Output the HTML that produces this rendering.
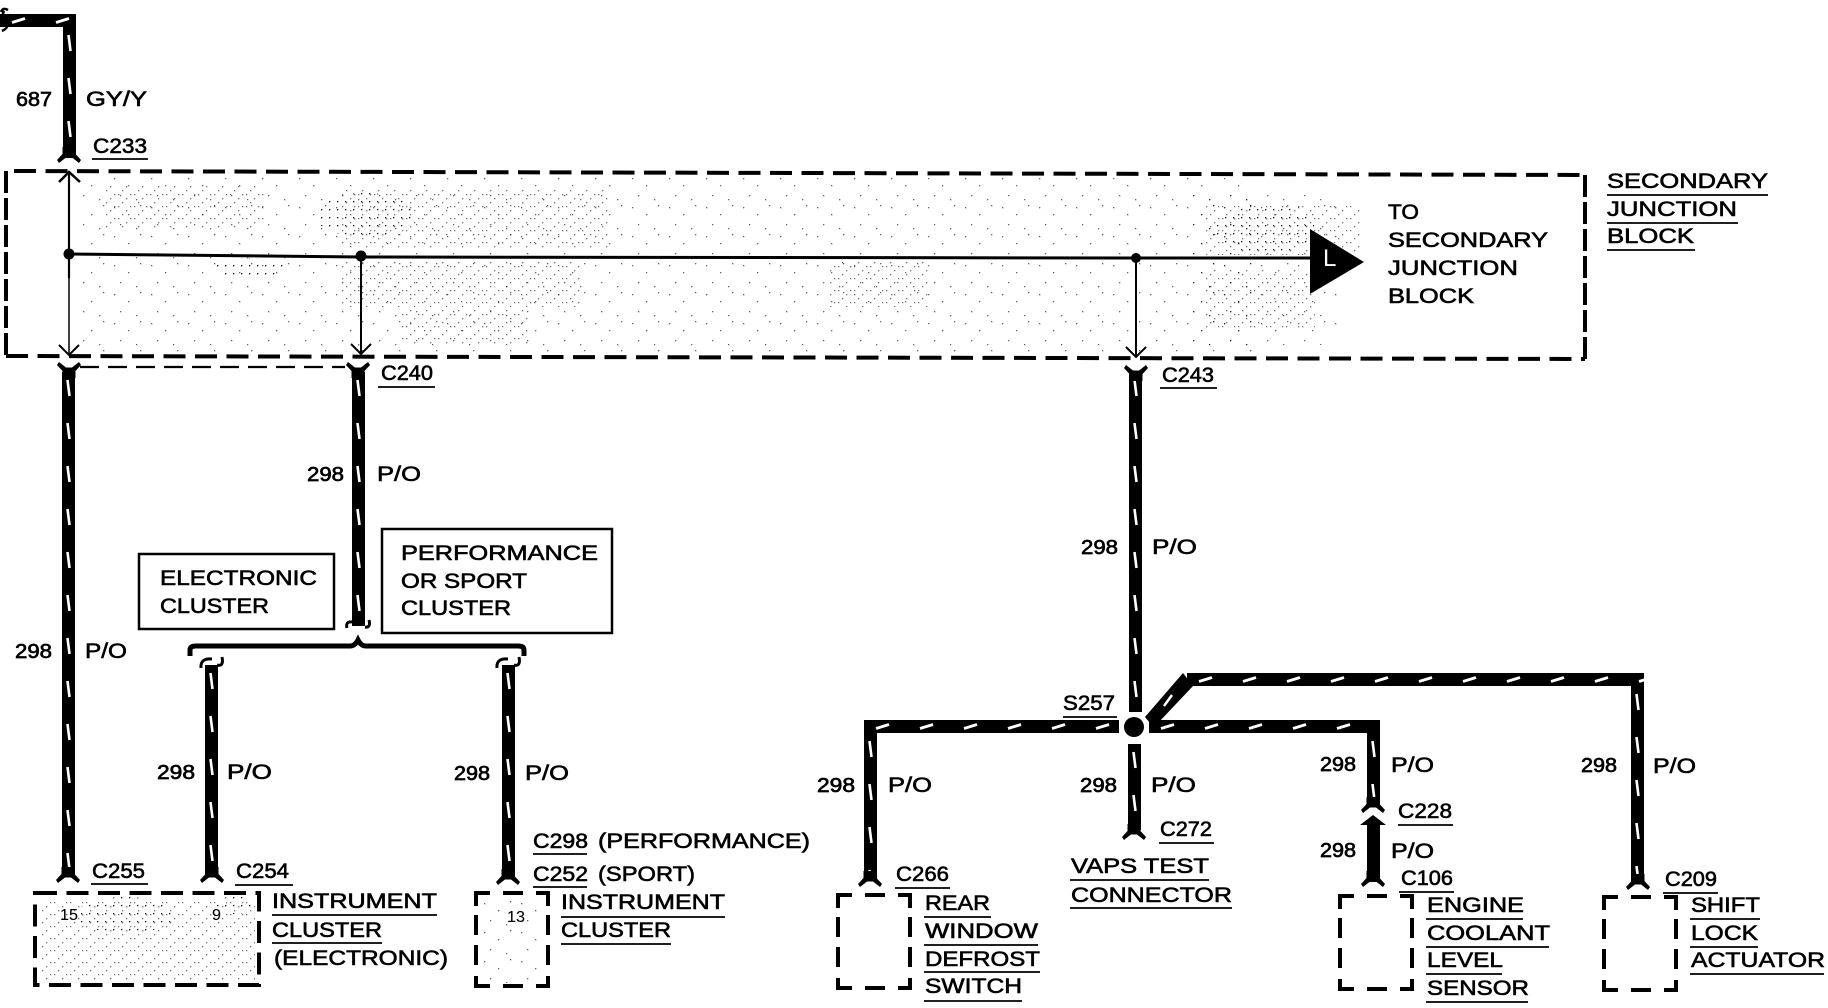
<!DOCTYPE html>
<html><head><meta charset="utf-8"><style>
html,body{margin:0;padding:0;background:#fff}
svg{display:block}
text{font-family:"Liberation Sans",sans-serif;font-size:21px;fill:#000;stroke:#000;stroke-width:.6px}
.n{font-size:20px;stroke-width:.7px}
.s{font-size:16px;stroke-width:.1px}
</style></head><body>
<svg width="1828" height="1008" viewBox="0 0 1828 1008" xmlns="http://www.w3.org/2000/svg">
<defs>
<pattern id="v" width="13" height="43" patternUnits="userSpaceOnUse"><rect width="13" height="43" fill="#000"/><path d="M5.500 8L7.500 24" stroke="#fff" stroke-width="2.600"/></pattern>
<pattern id="h" width="44" height="13" patternUnits="userSpaceOnUse"><rect width="44" height="13" fill="#000"/><path d="M12 8.500L25 4.500" stroke="#fff" stroke-width="3"/></pattern>
<pattern id="d1" width="8" height="8" patternUnits="userSpaceOnUse"><rect x="1" y="1" width="1.300" height="1.300" fill="#000"/></pattern>
<pattern id="d3" width="37" height="29" patternUnits="userSpaceOnUse"><g fill="#000"><rect x="3" y="4" width="1.300" height="1.300"/><rect x="17" y="11" width="1.300" height="1.300"/><rect x="29" y="2" width="1.300" height="1.300"/><rect x="9" y="21" width="1.300" height="1.300"/><rect x="25" y="25" width="1.300" height="1.300"/></g></pattern>
<pattern id="d4" width="16" height="12" patternUnits="userSpaceOnUse"><g fill="#000"><rect x="2" y="2" width="1.300" height="1.300"/><rect x="6" y="2" width="1.300" height="1.300"/><rect x="14" y="6" width="1.300" height="1.300"/><rect x="10" y="10" width="1.300" height="1.300"/></g></pattern>
<polygon id="fd" points="-6.500,-16 -6.500,-9 -12,-3 -10,0 -3,-5.500 3,-5.500 10,0 12,-3 6.500,-9 6.500,-16"/>
<path id="sb" fill="none" stroke="#000" stroke-width="4" d="M0 13V0H14M27 0H47M60 0H72V13M0 22V42M0 52V72M0 83V93H14M27 93H47M60 93H72V83M72 22V42M72 52V72"/>
<path id="ch" fill="none" stroke="#000" stroke-width="2" d="M-10 -10L0 0L10 -10"/>
</defs>

<!-- stipple -->
<g>
<rect x="80" y="178" width="1180" height="174" fill="url(#d3)" opacity=".6"/>
<rect x="1190" y="195" width="150" height="150" fill="url(#d3)" opacity=".6"/>
<g opacity=".55">
<rect x="105" y="185" width="160" height="45" fill="url(#d4)"/>
<rect x="340" y="190" width="270" height="60" fill="url(#d4)"/>
<rect x="340" y="262" width="240" height="45" fill="url(#d4)"/>
<rect x="400" y="310" width="130" height="35" fill="url(#d4)"/>
<rect x="830" y="262" width="100" height="45" fill="url(#d4)"/>
<rect x="1205" y="205" width="155" height="50" fill="url(#d4)"/>
<rect x="1205" y="270" width="110" height="60" fill="url(#d4)"/>
<rect x="40" y="900" width="215" height="80" fill="url(#d4)"/>
</g>
<ellipse cx="365" cy="215" rx="50" ry="22" fill="url(#d1)"/>
<ellipse cx="250" cy="268" rx="35" ry="10" fill="url(#d1)"/>
<ellipse cx="1265" cy="230" rx="50" ry="25" fill="url(#d1)"/>
<ellipse cx="125" cy="915" rx="50" ry="18" fill="url(#d1)"/>
<ellipse cx="235" cy="905" rx="18" ry="9" fill="url(#d1)"/>
<rect x="482" y="898" width="60" height="85" fill="url(#d3)" opacity=".6"/>
</g>

<!-- junction block dashed -->
<path fill="none" stroke="#000" stroke-width="4" stroke-dasharray="22 9.500" d="M14 171L1585 175"/>
<path fill="none" stroke="#000" stroke-width="4" stroke-dasharray="22 9.500" d="M6 356L1585 359"/>
<path fill="none" stroke="#000" stroke-width="4" stroke-dasharray="22 5" d="M6 171V356"/>
<path fill="none" stroke="#000" stroke-width="4" stroke-dasharray="22 5" d="M1585 175V359"/>
<path fill="none" stroke="#000" stroke-width="2.200" stroke-dasharray="19 9" d="M80 367H345"/>

<!-- internal lines -->
<path d="M69 172V278" stroke="#000" stroke-width="2.200" fill="none"/>
<path d="M69 278V355" stroke="#000" stroke-width="1.500" fill="none"/>
<path d="M69 254L361 257L1136 258L1312 258" stroke="#000" stroke-width="3" fill="none"/>
<path d="M361 257V354" stroke="#000" stroke-width="2" fill="none"/>
<path d="M1136 258V356" stroke="#000" stroke-width="2" fill="none"/>
<circle cx="69" cy="254" r="5.500"/><circle cx="361" cy="256" r="5.500"/><circle cx="1136" cy="258" r="5"/>
<path d="M59 182L69 172L80 182" fill="none" stroke="#000" stroke-width="2.500"/>
<use href="#ch" x="69" y="355"/><use href="#ch" x="361" y="354"/><use href="#ch" x="1136" y="357"/>
<polygon points="1310,229 1364,262 1310,294" fill="#000"/>
<text x="1323" y="266" style="font-size:24px;fill:#fff;stroke:none">L</text>

<!-- wires -->
<path d="M1 12Q3 7 8 10M4 11Q0 20 6 23Q10 27 2 31" fill="none" stroke="#000" stroke-width="2.500"/>
<g transform="translate(0,14)"><rect width="76" height="13" fill="url(#h)"/></g>
<g transform="translate(63,27)"><rect width="13" height="131" fill="url(#v)"/></g>
<g transform="translate(62,372)"><rect width="13" height="505" fill="url(#v)"/></g>
<g transform="translate(352,372)"><rect width="13" height="254" fill="url(#v)"/></g>
<g transform="translate(205,665)"><rect width="13" height="210" fill="url(#v)"/></g>
<g transform="translate(502,665)"><rect width="13" height="212" fill="url(#v)"/></g>
<g transform="translate(1129,372)"><rect width="13" height="340" fill="url(#v)"/></g>
<g transform="translate(1128,744)"><rect width="13" height="86" fill="url(#v)"/></g>
<g transform="translate(864,733)"><rect width="13" height="148" fill="url(#v)"/></g>
<g transform="translate(1367,733)"><rect width="13" height="72" fill="url(#v)"/></g>
<rect x="1367" y="820" width="13" height="62" fill="#000"/>
<g transform="translate(1631,686)"><rect width="13" height="198" fill="url(#v)"/></g>
<g transform="translate(864,720)"><rect width="255" height="13" fill="url(#h)"/></g>
<g transform="translate(1149,720)"><rect width="231" height="13" fill="url(#h)"/></g>
<g transform="translate(1187,673)"><rect width="457" height="13" fill="url(#h)"/></g>
<polygon points="1145,717 1183,673 1193,686 1158,723 1150,723" fill="#000"/>
<path d="M1164 706L1172 695" stroke="#fff" stroke-width="2.500"/>
<ellipse cx="1134" cy="727" rx="10" ry="10" fill="#000"/>
<polygon points="1373,815 1386,825 1360,825" fill="#000"/>

<!-- forks -->
<use href="#fd" transform="translate(69,163)"/>
<use href="#fd" transform="translate(69,362) scale(1,-1)"/>
<use href="#fd" transform="translate(358,362) scale(1,-1)"/>
<use href="#fd" transform="translate(1136,365) scale(1,-1)"/>
<use href="#fd" transform="translate(68,883)"/>
<use href="#fd" transform="translate(212,883)"/>
<use href="#fd" transform="translate(508,885)"/>
<use href="#fd" transform="translate(870,887)"/>
<use href="#fd" transform="translate(1134,840)"/>
<use href="#fd" transform="translate(1373,813)"/>
<use href="#fd" transform="translate(1373,887)"/>
<use href="#fd" transform="translate(1638,890)"/>

<!-- brace and curls -->
<path d="M190 656V650Q190 646 196 646H350Q355 646 358 640Q361 646 366 646H518Q524 646 524 650V656" fill="none" stroke="#000" stroke-width="5"/>
<path d="M347 628Q345 621 353 622M365 627Q371 628 369 620" fill="none" stroke="#000" stroke-width="3"/>
<path d="M201 668Q200 658 212 659M217 665Q224 667 222 657" fill="none" stroke="#000" stroke-width="3"/>
<path d="M497 668Q496 658 508 659M514 665Q521 667 519 657" fill="none" stroke="#000" stroke-width="3"/>

<!-- boxes -->
<rect x="139" y="554" width="195" height="75" fill="none" stroke="#000" stroke-width="2.500"/>
<rect x="382" y="529" width="230" height="104" fill="none" stroke="#000" stroke-width="2.500"/>
<rect x="35" y="893" width="224" height="92" fill="none" stroke="#000" stroke-width="4" stroke-dasharray="22 9.500"/>
<use href="#sb" x="476" y="893"/>
<use href="#sb" x="838" y="895"/>
<use href="#sb" x="1340" y="896"/>
<use href="#sb" x="1604" y="897"/>

<!-- underlines -->
<path fill="none" stroke="#000" stroke-width="1.800" d="M92 159H148M378 387H435M1160 388H1217M1607 195H1768M1607 223H1738M1607 250H1695M1063 717H1117M1159 843H1214M1070 880H1209M1070 908H1232M1398 825H1453M1399 892H1454M1663 893H1718M895 888H950M924 917H991M924 945H1038M924 972H1040M924 1001H1022M1426 919H1523M1426 947H1549M1426 974H1502M1426 1002H1528M1690 919H1760M1690 947H1758M1690 974H1824M91 884H148M235 885H293M533 854H587M533 887H587M272 915H437M272 943H382M561 917H725M561 944H671"/>

<!-- labels -->
<text x="16" y="106" textLength="36" lengthAdjust="spacingAndGlyphs" class="n">687</text>
<text x="86" y="106" textLength="61" lengthAdjust="spacingAndGlyphs">GY/Y</text>
<text x="93" y="153" textLength="54" lengthAdjust="spacingAndGlyphs">C233</text>
<text x="381" y="380" textLength="52" lengthAdjust="spacingAndGlyphs">C240</text>
<text x="1162" y="382" textLength="52" lengthAdjust="spacingAndGlyphs">C243</text>

<text x="15" y="658" textLength="37" lengthAdjust="spacingAndGlyphs" class="n">298</text>
<text x="85" y="658" textLength="42" lengthAdjust="spacingAndGlyphs">P/O</text>
<text x="307" y="481" textLength="37" lengthAdjust="spacingAndGlyphs" class="n">298</text>
<text x="377" y="481" textLength="44" lengthAdjust="spacingAndGlyphs">P/O</text>
<text x="157" y="779" textLength="38" lengthAdjust="spacingAndGlyphs" class="n">298</text>
<text x="227" y="779" textLength="45" lengthAdjust="spacingAndGlyphs">P/O</text>
<text x="454" y="780" textLength="36" lengthAdjust="spacingAndGlyphs" class="n">298</text>
<text x="525" y="780" textLength="44" lengthAdjust="spacingAndGlyphs">P/O</text>
<text x="1081" y="554" textLength="37" lengthAdjust="spacingAndGlyphs" class="n">298</text>
<text x="1152" y="554" textLength="45" lengthAdjust="spacingAndGlyphs">P/O</text>

<text x="160" y="585" textLength="157" lengthAdjust="spacingAndGlyphs">ELECTRONIC</text>
<text x="160" y="613" textLength="109" lengthAdjust="spacingAndGlyphs">CLUSTER</text>
<text x="401" y="560" textLength="197" lengthAdjust="spacingAndGlyphs">PERFORMANCE</text>
<text x="401" y="588" textLength="126" lengthAdjust="spacingAndGlyphs">OR SPORT</text>
<text x="401" y="615" textLength="110" lengthAdjust="spacingAndGlyphs">CLUSTER</text>

<text x="1388" y="219" textLength="31" lengthAdjust="spacingAndGlyphs">TO</text>
<text x="1388" y="247" textLength="160" lengthAdjust="spacingAndGlyphs">SECONDARY</text>
<text x="1388" y="275" textLength="130" lengthAdjust="spacingAndGlyphs">JUNCTION</text>
<text x="1388" y="303" textLength="86" lengthAdjust="spacingAndGlyphs">BLOCK</text>
<text x="1607" y="188" textLength="161" lengthAdjust="spacingAndGlyphs">SECONDARY</text>
<text x="1607" y="216" textLength="130" lengthAdjust="spacingAndGlyphs">JUNCTION</text>
<text x="1607" y="243" textLength="87" lengthAdjust="spacingAndGlyphs">BLOCK</text>

<text x="1063" y="710" textLength="52" lengthAdjust="spacingAndGlyphs">S257</text>
<text x="817" y="792" textLength="38" lengthAdjust="spacingAndGlyphs" class="n">298</text>
<text x="888" y="792" textLength="44" lengthAdjust="spacingAndGlyphs">P/O</text>
<text x="1080" y="792" textLength="37" lengthAdjust="spacingAndGlyphs" class="n">298</text>
<text x="1151" y="792" textLength="45" lengthAdjust="spacingAndGlyphs">P/O</text>
<text x="1160" y="836" textLength="52" lengthAdjust="spacingAndGlyphs">C272</text>
<text x="1071" y="873" textLength="138" lengthAdjust="spacingAndGlyphs">VAPS TEST</text>
<text x="1071" y="902" textLength="161" lengthAdjust="spacingAndGlyphs">CONNECTOR</text>
<text x="1320" y="771" textLength="36" lengthAdjust="spacingAndGlyphs" class="n">298</text>
<text x="1391" y="772" textLength="43" lengthAdjust="spacingAndGlyphs">P/O</text>
<text x="1398" y="818" textLength="54" lengthAdjust="spacingAndGlyphs">C228</text>
<text x="1320" y="857" textLength="36" lengthAdjust="spacingAndGlyphs" class="n">298</text>
<text x="1391" y="858" textLength="43" lengthAdjust="spacingAndGlyphs">P/O</text>
<text x="1401" y="885" textLength="52" lengthAdjust="spacingAndGlyphs">C106</text>
<text x="1581" y="772" textLength="36" lengthAdjust="spacingAndGlyphs" class="n">298</text>
<text x="1653" y="773" textLength="43" lengthAdjust="spacingAndGlyphs">P/O</text>
<text x="1665" y="886" textLength="52" lengthAdjust="spacingAndGlyphs">C209</text>
<text x="896" y="881" textLength="53" lengthAdjust="spacingAndGlyphs">C266</text>

<text x="925" y="910" textLength="65" lengthAdjust="spacingAndGlyphs">REAR</text>
<text x="925" y="938" textLength="113" lengthAdjust="spacingAndGlyphs">WINDOW</text>
<text x="925" y="966" textLength="115" lengthAdjust="spacingAndGlyphs">DEFROST</text>
<text x="925" y="993" textLength="97" lengthAdjust="spacingAndGlyphs">SWITCH</text>
<text x="1427" y="912" textLength="97" lengthAdjust="spacingAndGlyphs">ENGINE</text>
<text x="1427" y="940" textLength="123" lengthAdjust="spacingAndGlyphs">COOLANT</text>
<text x="1427" y="967" textLength="76" lengthAdjust="spacingAndGlyphs">LEVEL</text>
<text x="1427" y="995" textLength="102" lengthAdjust="spacingAndGlyphs">SENSOR</text>
<text x="1691" y="912" textLength="69" lengthAdjust="spacingAndGlyphs">SHIFT</text>
<text x="1691" y="940" textLength="67" lengthAdjust="spacingAndGlyphs">LOCK</text>
<text x="1691" y="967" textLength="134" lengthAdjust="spacingAndGlyphs">ACTUATOR</text>

<text x="92" y="878" textLength="53" lengthAdjust="spacingAndGlyphs">C255</text>
<text x="236" y="878" textLength="53" lengthAdjust="spacingAndGlyphs">C254</text>
<text x="533" y="848" textLength="55" lengthAdjust="spacingAndGlyphs">C298</text>
<text x="598" y="848" textLength="212" lengthAdjust="spacingAndGlyphs">(PERFORMANCE)</text>
<text x="533" y="881" textLength="55" lengthAdjust="spacingAndGlyphs">C252</text>
<text x="598" y="881" textLength="97" lengthAdjust="spacingAndGlyphs">(SPORT)</text>
<text x="272" y="908" textLength="165" lengthAdjust="spacingAndGlyphs">INSTRUMENT</text>
<text x="272" y="937" textLength="110" lengthAdjust="spacingAndGlyphs">CLUSTER</text>
<text x="274" y="965" textLength="174" lengthAdjust="spacingAndGlyphs">(ELECTRONIC)</text>
<text x="561" y="909" textLength="164" lengthAdjust="spacingAndGlyphs">INSTRUMENT</text>
<text x="561" y="937" textLength="110" lengthAdjust="spacingAndGlyphs">CLUSTER</text>
<text x="60" y="920" textLength="18" lengthAdjust="spacingAndGlyphs" class="s">15</text>
<text x="212" y="920" textLength="9" lengthAdjust="spacingAndGlyphs" class="s">9</text>
<text x="507" y="922" textLength="18" lengthAdjust="spacingAndGlyphs" class="s">13</text>
</svg>
</body></html>
